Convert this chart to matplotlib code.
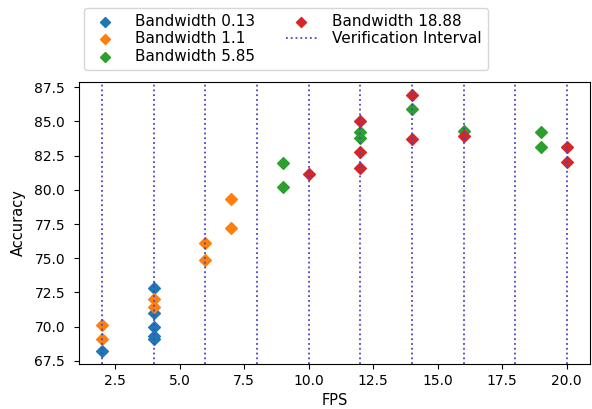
import matplotlib
matplotlib.use('Agg')
import matplotlib.pyplot as plt

# 各带宽下的 (FPS, Accuracy) 数据点
fps_013 = [2, 4, 4, 4, 4, 4]
acc_013 = [68.2, 72.8, 71.0, 70.0, 69.3, 69.1]

fps_11 = [2, 2, 4, 4, 6, 6, 7, 7]
acc_11 = [70.1, 69.1, 72.0, 71.4, 76.1, 74.9, 79.3, 77.2]

fps_585 = [9, 9, 12, 12, 14, 16, 19, 19]
acc_585 = [82.0, 80.2, 84.2, 83.8, 85.9, 84.3, 84.2, 83.1]

fps_1888 = [10, 12, 12, 12, 14, 14, 16, 20, 20]
acc_1888 = [81.15, 85.0, 82.8, 81.6, 86.95, 83.7, 83.95, 83.1, 82.05]

intervals = [2, 4, 6, 8, 10, 12, 14, 16, 18, 20]

fig = plt.figure(figsize=(5.92, 4.09), dpi=100)
ax = fig.add_axes([0.1334, 0.11, 0.8632, 0.6895])

ax.scatter(fps_013, acc_013, marker='D', label='Bandwidth 0.13')
ax.scatter(fps_11, acc_11, marker='D', label='Bandwidth 1.1')
ax.scatter(fps_585, acc_585, marker='D', label='Bandwidth 5.85')
ax.scatter(fps_1888, acc_1888, marker='D', label='Bandwidth 18.88')

for i, v in enumerate(intervals):
    ax.axvline(v, color='#4646c0', linestyle=':', linewidth=1.3,
               label='Verification Interval' if i == 0 else None)

ax.tick_params(axis='y', pad=6.5)
ax.set_xlabel('FPS', fontsize=10.5)
ax.set_ylabel('Accuracy', fontsize=10.5, labelpad=6)

fig.legend(loc='upper left', bbox_to_anchor=(83.5 / 592, 1 - 8 / 409),
           borderaxespad=0, ncol=2, fontsize=11, scatterpoints=1,
           markerscale=0.85, handletextpad=1.0, columnspacing=2.0,
           labelspacing=0.15)

fig.savefig('out.png', dpi=100)
